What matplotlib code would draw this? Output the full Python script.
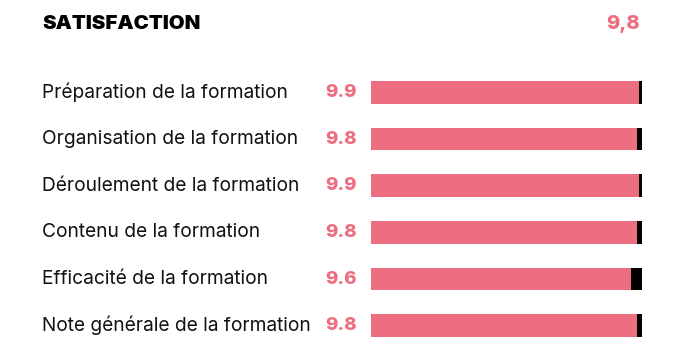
import matplotlib
matplotlib.use("Agg")
import matplotlib.pyplot as plt
from matplotlib.transforms import blended_transform_factory

categories = [
    "Préparation de la formation",
    "Organisation de la formation",
    "Déroulement de la formation",
    "Contenu de la formation",
    "Efficacité de la formation",
    "Note générale de la formation",
]
values = [9.9, 9.8, 9.9, 9.8, 9.6, 9.8]
max_value = 10
title = "SATISFACTION"
overall = "9,8"

PINK = "#EC6E80"
W, H = 677, 361
fig = plt.figure(figsize=(W / 100, H / 100), dpi=100)
plt.rcParams["font.family"] = ["Inter", "DejaVu Sans"]

ax = fig.add_axes([371 / W, 1 - 349 / H, (642 - 371) / W, (349 - 69) / H])
ax.set_xlim(0, max_value)
ax.set_ylim(len(categories) - 0.5, -0.5)
ax.axis("off")

ys = list(range(len(categories)))
bh = 0.49
ax.barh(ys, [max_value] * len(values), height=bh, color="black", left=0)
ax.barh(ys, values, height=bh, color=PINK)

tr = blended_transform_factory(fig.transFigure, ax.transData)
for y, cat, v in zip(ys, categories, values):
    ax.text(42 / W, y, cat, transform=tr, ha="left", va="center",
            fontsize=13.8, color="#111111")
    ax.text(357 / W, y, f"{v:.1f}", transform=tr, ha="right", va="center",
            fontsize=13.5, color=PINK, fontweight="heavy")

fig.text(42 / W, 1 - 24 / H, title, ha="left", va="center",
         fontsize=14.7, fontweight="black", color="black")
fig.text(640 / W, 1 - 24 / H, overall, ha="right", va="center",
         fontsize=14.5, fontweight="heavy", color=PINK)

fig.savefig("out.png", dpi=100)
